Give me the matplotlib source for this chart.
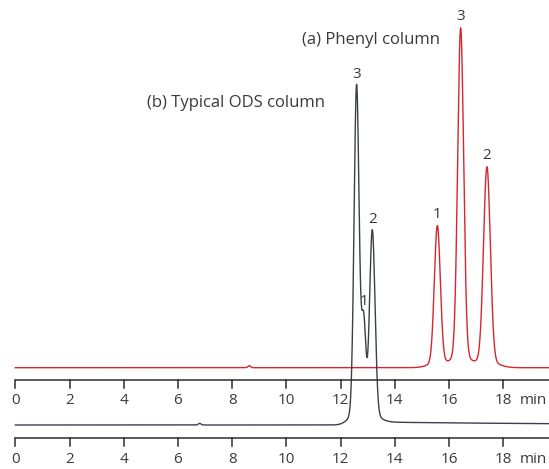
import numpy as np
import matplotlib.pyplot as plt

# retention times (min), peak heights and widths
phenyl_times = [15.57, 16.43, 17.40]
phenyl_heights = [137, 328, 194]
phenyl_sigma = [0.11, 0.11, 0.125]
phenyl_labels = ['1', '3', '2']

ods_times = [12.59, 12.85, 13.17]
ods_heights = [326, 92, 186]
ods_sigma = [0.092, 0.08, 0.10]
ods_labels = ['3', '1', '2']

# tiny baseline disturbances
phenyl_bump = (8.63, 2.0)
ods_bump = (6.80, 1.6)

tick_values = [0, 2, 4, 6, 8, 10, 12, 14, 16, 18]

RED = '#d6262f'
DARK = '#3b3f4a'
AXIS = '#2e2e2e'
TEXT = '#3a3a3a'


def chromatogram(t, times, heights, sigmas, bump):
    y = np.zeros_like(t)
    for t0, h, s in zip(times, heights, sigmas):
        y += h * np.exp(-(t - t0) ** 2 / (2 * s ** 2))
        # broad foot so the peaks flare out at the base
        y += 0.035 * h * np.exp(-(t - t0) ** 2 / (2 * (3.0 * s) ** 2))
    bt, bh = bump
    y += bh * np.exp(-(t - bt) ** 2 / (2 * 0.05 ** 2))
    return y


def draw_axis(ax, y0, xmax):
    ax.plot([0, xmax], [y0, y0], color=AXIS, lw=1.1, solid_capstyle='butt')
    for v in tick_values:
        ax.plot([v, v], [y0, y0 - 8], color=AXIS, lw=1.1)
        ax.text(v, y0 - 21, str(v), ha='center', va='center',
                fontsize=11, color=TEXT)
    ax.text(19.12, y0 - 21, 'min', ha='center', va='center',
            fontsize=11, color=TEXT)


def main():
    fig = plt.figure(figsize=(5.49, 4.69), dpi=100)
    ax = fig.add_axes([0, 0, 1, 1])
    plt.rcParams['font.family'] = ['Open Sans', 'DejaVu Sans']

    xmin, xmax = -0.568, 19.69
    ax.set_xlim(xmin, xmax)
    ax.set_ylim(0, 469)
    ax.axis('off')

    t = np.linspace(0, xmax, 6000)

    # (a) phenyl column, upper trace
    red_base = 101.3
    y_red = red_base + chromatogram(t, phenyl_times, phenyl_heights,
                                    phenyl_sigma, phenyl_bump)
    ax.plot(t, y_red, color=RED, lw=1.0)

    # (b) typical ODS column, lower trace with a slight tail after the peaks
    ods_base = 44.0
    tail = 3.0 / (1 + np.exp(-(t - 13.3) / 0.05)) * np.exp(-np.clip(t - 13.3, 0, None) / 8)
    y_ods = ods_base + chromatogram(t, ods_times, ods_heights,
                                    ods_sigma, ods_bump) + tail
    ax.plot(t, y_ods, color=DARK, lw=1.0)

    draw_axis(ax, 89.5, xmax)
    draw_axis(ax, 31.0, xmax)

    for t0, lab in zip(phenyl_times, phenyl_labels):
        top = np.interp(t0, t, y_red)
        ax.text(t0, top + 11, lab, ha='center', va='center',
                fontsize=11, color=TEXT)
    for t0, lab in zip(ods_times, ods_labels):
        top = np.interp(t0, t, y_ods)
        ax.text(t0, top + 10, lab, ha='center', va='center',
                fontsize=11, color=TEXT)

    ax.text(10.58, 429, '(a) Phenyl column', ha='left', va='center',
            fontsize=12, color=TEXT)
    ax.text(4.85, 366, '(b) Typical ODS column', ha='left', va='center',
            fontsize=12, color=TEXT)

    fig.savefig('out.png', dpi=100)


if __name__ == '__main__':
    main()
